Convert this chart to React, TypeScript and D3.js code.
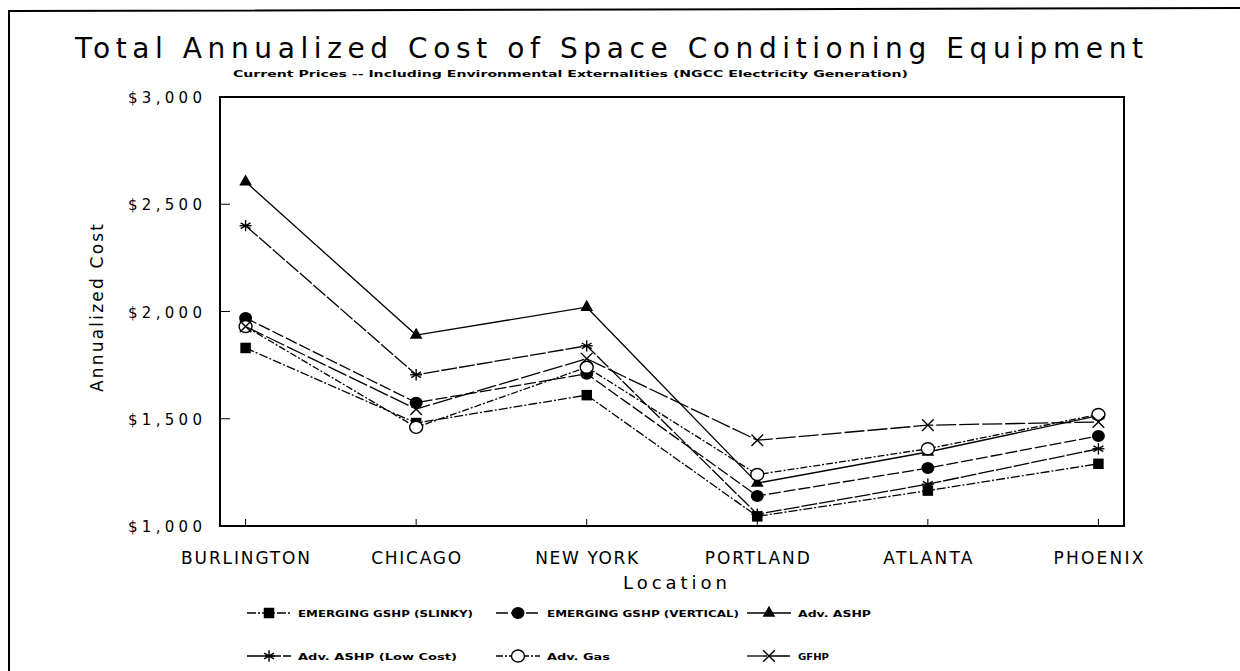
import React, { useEffect } from 'react';
import * as d3 from 'd3';

const locations = ['BURLINGTON', 'CHICAGO', 'NEW YORK', 'PORTLAND', 'ATLANTA', 'PHOENIX'];
const locationWidths = [129, 90, 103, 105, 89, 90];

const slinky = [1830, 1480, 1610, 1045, 1165, 1290];
const vertical = [1970, 1575, 1710, 1140, 1270, 1420];
const advAshp = [2605, 1890, 2020, 1200, 1345, 1515];
const advAshpLow = [2400, 1705, 1840, 1055, 1195, 1360];
const advGas = [1930, 1460, 1740, 1240, 1360, 1520];
const gfhp = [1930, 1545, 1780, 1400, 1470, 1485];

const yTicks = [1000, 1500, 2000, 2500, 3000];

type Marker = 'square' | 'dot' | 'triangle' | 'star' | 'ring' | 'cross';

const series: { name: string; values: number[]; marker: Marker; dash: string; labelWidth: number }[] = [
  { name: 'EMERGING GSHP (SLINKY)', values: slinky, marker: 'square', dash: '9 2 2 2', labelWidth: 175 },
  { name: 'EMERGING GSHP (VERTICAL)', values: vertical, marker: 'dot', dash: '12 3', labelWidth: 192 },
  { name: 'Adv. ASHP', values: advAshp, marker: 'triangle', dash: '', labelWidth: 73 },
  { name: 'Adv. ASHP (Low Cost)', values: advAshpLow, marker: 'star', dash: '16 2', labelWidth: 159 },
  { name: 'Adv. Gas', values: advGas, marker: 'ring', dash: '7 2 2 2', labelWidth: 63 },
  { name: 'GFHP', values: gfhp, marker: 'cross', dash: '20 3', labelWidth: 31 },
];

const margin = { top: 97, right: 116, bottom: 145, left: 220 };
const W = 1240;
const H = 671;

const x = d3
  .scalePoint<string>()
  .domain(locations)
  .range([margin.left, W - margin.right])
  .padding(0.15);

const y = d3
  .scaleLinear()
  .domain([1000, 3000])
  .range([H - margin.bottom, margin.top]);

const line = d3
  .line<number>()
  .x((_, i) => x(locations[i]) ?? 0)
  .y((d) => y(d));

const plotFont = "'DejaVu Sans', sans-serif";

function MarkerShape({ type, cx, cy }: { type: Marker; cx: number; cy: number }) {
  const t = `translate(${cx},${cy})`;
  if (type === 'square') {
    return <path transform={t} d={d3.symbol(d3.symbolSquare, 110)() ?? ''} fill="#000" />;
  }
  if (type === 'dot') {
    return <ellipse cx={cx} cy={cy} rx={6.5} ry={6} fill="#000" />;
  }
  if (type === 'triangle') {
    return <path transform={t} d={d3.symbol(d3.symbolTriangle, 70)() ?? ''} fill="#000" />;
  }
  if (type === 'star') {
    return (
      <g transform={t} stroke="#000" strokeWidth={1.4}>
        <path d={d3.symbol(d3.symbolAsterisk, 90)() ?? ''} fill="none" />
        <line x1={-6} x2={6} y1={0} y2={0} />
      </g>
    );
  }
  if (type === 'ring') {
    return <ellipse cx={cx} cy={cy} rx={6.5} ry={6} fill="#fff" stroke="#000" strokeWidth={1.4} />;
  }
  return <path transform={t} d={d3.symbol(d3.symbolTimes, 90)() ?? ''} fill="none" stroke="#000" strokeWidth={1.4} />;
}

const legendCols = [247, 496, 747];
const legendRows = [613, 656];

export default function App() {
  useEffect(() => {
    document.body.style.margin = '0';
  }, []);

  const x0 = margin.left;
  const x1 = W - margin.right;
  const yBottom = y(1000);
  const yTop = y(3000);

  return (
    <svg width={W} height={H} style={{ display: 'block', background: '#fff' }}>
      {/* outer page frame */}
      <path d={`M9,${H} L9,11 L${W},8`} fill="none" stroke="#000" strokeWidth={2} />

      <text
        x={75}
        y={58}
        textLength={1068}
        lengthAdjust="spacing"
        fontFamily={plotFont}
        fontSize={28}
      >
        Total Annualized Cost of Space Conditioning Equipment
      </text>
      <text
        x={233}
        y={77}
        textLength={675}
        lengthAdjust="spacingAndGlyphs"
        fontFamily={plotFont}
        fontWeight="bold"
        fontSize={9}
      >
        Current Prices -- Including Environmental Externalities (NGCC Electricity Generation)
      </text>

      {/* plot frame */}
      <rect x={x0} y={yTop} width={x1 - x0} height={yBottom - yTop} fill="none" stroke="#000" strokeWidth={2} />

      {/* y axis */}
      {yTicks.map((t) => (
        <g key={t}>
          {t > 1000 && t < 3000 && <line x1={x0} x2={x0 + 10} y1={y(t)} y2={y(t)} stroke="#000" strokeWidth={1} />}
          <text
            x={128}
            y={y(t) + 6}
            textLength={74}
            lengthAdjust="spacing"
            fontFamily={plotFont}
            fontSize={15}
          >
            {d3.format('$,')(t)}
          </text>
        </g>
      ))}
      <text
        transform={`translate(103,308) rotate(-90)`}
        x={-84}
        textLength={168}
        lengthAdjust="spacing"
        fontFamily={plotFont}
        fontSize={17}
      >
        Annualized Cost
      </text>

      {/* x axis */}
      {locations.map((loc, i) => (
        <g key={loc}>
          <line x1={x(loc)} x2={x(loc)} y1={yBottom} y2={yBottom - 7} stroke="#000" strokeWidth={1} />
          <text
            x={(x(loc) ?? 0) - locationWidths[i] / 2}
            y={yBottom + 38}
            textLength={locationWidths[i]}
            lengthAdjust="spacing"
            fontFamily={plotFont}
            fontSize={17}
          >
            {loc}
          </text>
        </g>
      ))}
      <text
        x={623}
        y={589}
        textLength={104}
        lengthAdjust="spacing"
        fontFamily={plotFont}
        fontSize={18}
      >
        Location
      </text>

      {/* series */}
      {series.map((s) => (
        <g key={s.name}>
          <path
            d={line(s.values) ?? ''}
            fill="none"
            stroke="#000"
            strokeWidth={1.3}
            strokeDasharray={s.dash || undefined}
          />
          {s.values.map((v, i) => (
            <MarkerShape key={i} type={s.marker} cx={x(locations[i]) ?? 0} cy={y(v)} />
          ))}
        </g>
      ))}

      {/* legend */}
      {series.map((s, i) => {
        const lx = legendCols[i % 3];
        const ly = legendRows[Math.floor(i / 3)];
        return (
          <g key={s.name}>
            <line x1={lx} x2={lx + 44} y1={ly} y2={ly} stroke="#000" strokeWidth={1.3} strokeDasharray={s.dash || undefined} />
            <MarkerShape type={s.marker} cx={lx + 22} cy={ly} />
            <text
              x={lx + 51}
              y={ly + 3.5}
              textLength={s.labelWidth}
              lengthAdjust="spacingAndGlyphs"
              fontFamily={plotFont}
              fontWeight="bold"
              fontSize={9.5}
            >
              {s.name}
            </text>
          </g>
        );
      })}
    </svg>
  );
}
